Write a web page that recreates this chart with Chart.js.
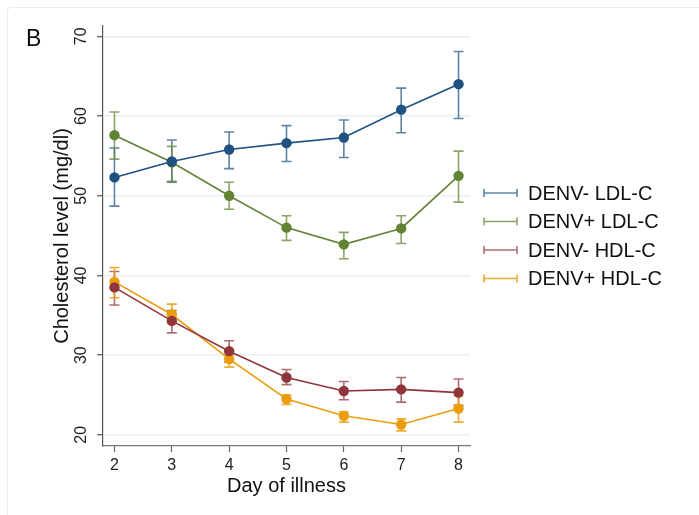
<!DOCTYPE html>
<html>
<head>
<meta charset="utf-8">
<script src="https://cdn.jsdelivr.net/npm/chart.js@4/dist/chart.umd.min.js"></script>
<style>
  html, body { margin: 0; padding: 0; background: #ffffff; }
  #wrap { position: relative; width: 699px; height: 515px; overflow: hidden; }
  #frame { position: absolute; left: 7px; top: 7px; width: 720px; height: 540px;
           border-top: 1px solid #ececec; border-left: 1px solid #ececec; border-radius: 4px; }
  canvas { position: absolute; left: 0; top: 0; }
</style>
</head>
<body>
<div id="wrap">
  <div id="frame"></div>
  <canvas id="c" width="699" height="515"></canvas>
</div>
<script>
// ---- data ----
const days = [2, 3, 4, 5, 6, 7, 8];
const xTicks = [2, 3, 4, 5, 6, 7, 8];
const yTicks = [20, 30, 40, 50, 60, 70];
const seriesNames = ["DENV- LDL-C", "DENV+ LDL-C", "DENV- HDL-C", "DENV+ HDL-C"];

const denvNegLDL    = [52.3, 54.3, 55.8, 56.6, 57.3, 60.8, 64.0];
const denvNegLDL_lo = [48.7, 51.7, 53.4, 54.3, 54.8, 57.9, 59.7];
const denvNegLDL_hi = [56.0, 57.0, 58.0, 58.8, 59.5, 63.5, 68.1];

const denvPosLDL    = [57.6, 54.2, 50.0, 46.0, 43.9, 45.9, 52.5];
const denvPosLDL_lo = [54.6, 51.8, 48.3, 44.4, 42.1, 44.0, 49.2];
const denvPosLDL_hi = [60.5, 56.2, 51.7, 47.5, 45.4, 47.5, 55.6];

const denvNegHDL    = [38.5, 34.3, 30.5, 27.2, 25.5, 25.7, 25.3];
const denvNegHDL_lo = [36.3, 32.8, 29.1, 26.3, 24.4, 24.1, 23.7];
const denvNegHDL_hi = [40.5, 35.6, 31.8, 28.2, 26.7, 27.2, 27.0];

const denvPosHDL    = [39.2, 35.1, 29.5, 24.5, 22.4, 21.3, 23.3];
const denvPosHDL_lo = [37.2, 34.0, 28.5, 23.8, 21.6, 20.5, 21.6];
const denvPosHDL_hi = [41.0, 36.4, 30.0, 25.0, 22.9, 22.0, 24.9];

// ---- styles ----
const colors    = ["#1f5280", "#618434", "#90353b", "#eb9d0e"];
const errColors = ["rgba(40,90,135,0.75)", "rgba(100,135,55,0.75)", "rgba(150,60,66,0.75)", "rgba(235,157,14,0.85)"];
const FONT = "'Liberation Sans', Arial, Helvetica, sans-serif";

const means = [denvNegLDL, denvPosLDL, denvNegHDL, denvPosHDL];
const lows  = [denvNegLDL_lo, denvPosLDL_lo, denvNegHDL_lo, denvPosHDL_lo];
const highs = [denvNegLDL_hi, denvPosLDL_hi, denvNegHDL_hi, denvPosHDL_hi];

const datasets = means.map((m, i) => ({
  label: seriesNames[i],
  data: days.map((d, j) => ({ x: d, y: m[j] })),
  borderColor: colors[i],
  backgroundColor: colors[i],
  pointBackgroundColor: colors[i],
  pointBorderColor: colors[i],
  pointRadius: 5.2,
  pointBorderWidth: 0,
  borderWidth: 1.6,
  tension: 0,
  errLo: lows[i],
  errHi: highs[i],
  errColor: errColors[i]
}));

const errorBars = {
  id: 'errorBars',
  beforeDatasetsDraw(chart) {
    const { ctx, scales: { x, y } } = chart;
    ctx.save();
    ctx.lineWidth = 1.6;
    chart.data.datasets.forEach(ds => {
      ctx.strokeStyle = ds.errColor;
      days.forEach((d, j) => {
        const px = x.getPixelForValue(d);
        const yl = y.getPixelForValue(ds.errLo[j]);
        const yh = y.getPixelForValue(ds.errHi[j]);
        ctx.beginPath();
        ctx.moveTo(px, yl); ctx.lineTo(px, yh);
        ctx.moveTo(px - 5, yl); ctx.lineTo(px + 5, yl);
        ctx.moveTo(px - 5, yh); ctx.lineTo(px + 5, yh);
        ctx.stroke();
      });
    });
    ctx.restore();
  }
};

const extras = {
  id: 'extras',
  afterDraw(chart) {
    const { ctx, scales: { y } } = chart;
    ctx.save();
    // rotated y tick labels
    ctx.fillStyle = '#222';
    ctx.font = "16px " + FONT;
    ctx.textAlign = 'center';
    ctx.textBaseline = 'middle';
    yTicks.forEach(v => {
      ctx.save();
      ctx.translate(82, y.getPixelForValue(v));
      ctx.rotate(-Math.PI / 2);
      ctx.fillText(String(v), 0, 0);
      ctx.restore();
    });
    // panel label
    ctx.fillStyle = '#111';
    ctx.font = "23px " + FONT;
    ctx.textAlign = 'left';
    ctx.fillText('B', 26, 40);
    // legend
    const rowY = [193, 221.5, 250, 278.5];
    ctx.font = "20px " + FONT;
    seriesNames.forEach((name, i) => {
      const yy = rowY[i];
      ctx.strokeStyle = errColors[i];
      ctx.lineWidth = 1.6;
      ctx.beginPath();
      ctx.moveTo(484, yy); ctx.lineTo(517, yy);
      ctx.moveTo(484, yy - 4); ctx.lineTo(484, yy + 4);
      ctx.moveTo(517, yy - 4); ctx.lineTo(517, yy + 4);
      ctx.stroke();
      ctx.fillStyle = '#111';
      ctx.textAlign = 'left';
      ctx.textBaseline = 'middle';
      ctx.fillText(name, 528, yy + 1);
    });
    ctx.restore();
  }
};

new Chart(document.getElementById('c'), {
  type: 'line',
  data: { datasets },
  options: {
    responsive: false,
    animation: false,
    layout: { padding: { left: 0, top: 26, right: 229, bottom: 0 } },
    plugins: { legend: { display: false }, tooltip: { enabled: false } },
    scales: {
      x: {
        type: 'linear',
        min: 1.8, max: 8.2,
        afterBuildTicks(scale) { scale.ticks = xTicks.map(v => ({ value: v })); },
        afterFit(scale) { scale.height = 69; },
        border: { display: true, color: '#777', width: 1.2 },
        grid: { drawOnChartArea: false, drawTicks: true, tickLength: 6, tickColor: '#666', tickWidth: 1.2 },
        ticks: { color: '#222', font: { family: FONT, size: 16 }, padding: 4, maxRotation: 0, autoSkip: false,
                 callback: v => String(v) },
        title: { display: true, text: 'Day of illness', color: '#111',
                 font: { family: FONT, size: 20 }, padding: { top: 0, bottom: 17 } }
      },
      y: {
        type: 'linear',
        min: 18.6, max: 71.3,
        afterBuildTicks(scale) { scale.ticks = yTicks.map(v => ({ value: v })); },
        afterFit(scale) { scale.width = 103; },
        border: { display: true, color: '#555', width: 1.2 },
        grid: { drawOnChartArea: true, color: '#e8f0f1', lineWidth: 1.5, drawTicks: true, tickLength: 6, tickColor: '#555', tickWidth: 1.2 },
        ticks: { display: false },
        title: { display: true, text: 'Cholesterol level (mg/dl)', color: '#111',
                 font: { family: FONT, size: 20 }, padding: { top: 50, bottom: 0 } }
      }
    }
  },
  plugins: [errorBars, extras]
});
</script>
</body>
</html>
